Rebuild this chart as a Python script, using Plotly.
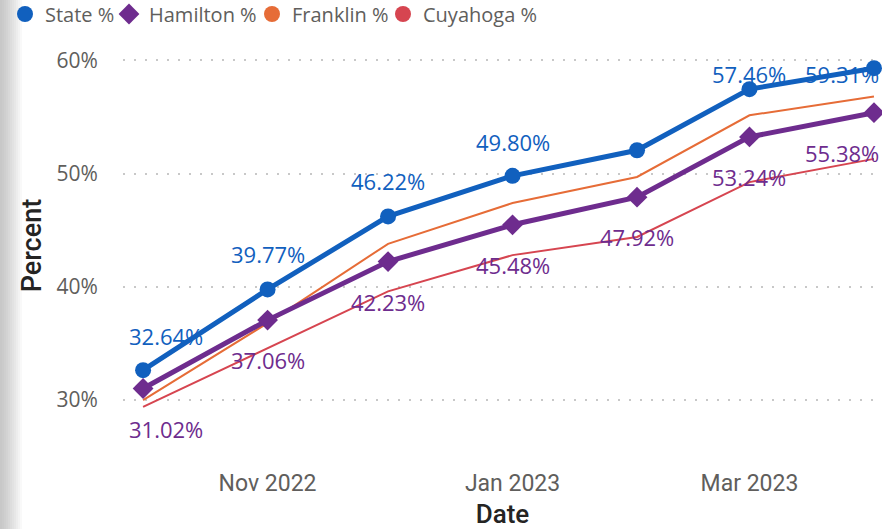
import plotly.graph_objects as go

# ---- data ----
dates = ["2022-10-01", "2022-11-01", "2022-12-01", "2023-01-01",
         "2023-02-01", "2023-03-01", "2023-04-01"]
state_pct = [32.64, 39.77, 46.22, 49.80, 52.06, 57.46, 59.31]
hamilton_pct = [31.02, 37.06, 42.23, 45.48, 47.92, 53.24, 55.38]
franklin_pct = [30.0, 36.8, 43.8, 47.4, 49.7, 55.15, 56.8]
cuyahoga_pct = [29.4, 34.6, 39.6, 42.8, 44.4, 49.25, 51.3]
state_label_shown = [True, True, True, True, False, True, True]
y_ticks = [30, 40, 50, 60]
y_tick_text = ["30%", "40%", "50%", "60%"]
series_names = ["State %", "Hamilton %", "Franklin %", "Cuyahoga %"]

# ---- style ----
C_STATE = "#1160BE"
C_HAM = "#6E2C8E"
C_FRANK = "#E66C37"
C_CUY = "#D64550"
FONT = "Open Sans"
COND = "Roboto"
W, H = 882, 529
ML, MR, MT, MB = 123, 0, 40, 78
PW = W - ML - MR
PH = H - MT - MB

fig = go.Figure()

fig.add_trace(go.Scatter(x=dates, y=cuyahoga_pct, mode="lines", name=series_names[3],
                         line=dict(color=C_CUY, width=2), showlegend=False))
fig.add_trace(go.Scatter(x=dates, y=franklin_pct, mode="lines", name=series_names[2],
                         line=dict(color=C_FRANK, width=2), showlegend=False))
fig.add_trace(go.Scatter(x=dates, y=hamilton_pct, mode="lines+markers", name=series_names[1],
                         line=dict(color=C_HAM, width=5),
                         marker=dict(symbol="diamond", size=16, color=C_HAM), showlegend=False))
fig.add_trace(go.Scatter(x=dates, y=state_pct, mode="lines+markers", name=series_names[0],
                         line=dict(color=C_STATE, width=5),
                         marker=dict(symbol="circle", size=16, color=C_STATE), showlegend=False))

# legend-only entries, one legend each so they can be placed like the reference
leg_cols = [C_STATE, C_HAM, C_FRANK, C_CUY]
leg_syms = ["circle", "diamond", "circle", "circle"]
leg_px = [5, 109, 252, 383]   # left pixel of each legend box
leg_ids = ["legend", "legend2", "legend3", "legend4"]
for name, col, sym, lid in zip(series_names, leg_cols, leg_syms, leg_ids):
    fig.add_trace(go.Scatter(x=[None], y=[None], mode="markers", name=name, legend=lid,
                             marker=dict(symbol=sym, size=18, color=col)))
leg_layout = {}
for lid, px in zip(leg_ids, leg_px):
    leg_layout[lid] = dict(orientation="h", xref="paper", x=(px - ML) / PW, xanchor="left",
                           yref="paper", y=1 + (MT - 14) / PH, yanchor="middle",
                           font=dict(family=FONT, size=20, color="#605E5C"),
                           itemwidth=30, bgcolor="rgba(0,0,0,0)")
fig.update_layout(**leg_layout)

# data labels
state_dx = [23, 0, 0, 0, 0, 0, -32]
state_dy = [34, 35, 35, 34, 34, 15, -6]
for i, (d, v) in enumerate(zip(dates, state_pct)):
    if not state_label_shown[i]:
        continue
    fig.add_annotation(x=d, y=v, text=f"{v:.2f}%", showarrow=False,
                       xshift=state_dx[i], yshift=state_dy[i],
                       font=dict(family=FONT, size=22, color=C_STATE))
ham_dx = [23, 0, 0, 0, 0, 0, -32]
for i, (d, v) in enumerate(zip(dates, hamilton_pct)):
    fig.add_annotation(x=d, y=v, text=f"{v:.2f}%", showarrow=False,
                       xshift=ham_dx[i], yshift=-40,
                       font=dict(family=FONT, size=22, color=C_HAM))

# left gray edge strip (decoration)
n = 11
for k in range(n):
    x0 = (-ML + k * 2) / PW
    x1 = (-ML + (k + 1) * 2) / PW
    g = int(200 + (255 - 200) * (k / n) ** 1.2)
    fig.add_shape(type="rect", xref="paper", yref="paper", x0=x0, x1=x1,
                  y0=-MB / PH, y1=1 + MT / PH,
                  line=dict(width=0), fillcolor=f"rgb({g},{g},{g})", layer="below")

fig.update_layout(
    width=W, height=H,
    margin=dict(l=ML, r=MR, t=MT, b=MB, autoexpand=False),
    paper_bgcolor="white", plot_bgcolor="white",
    font=dict(family=FONT, color="#605E5C"),
    showlegend=True,
)
fig.update_xaxes(
    type="date", range=["2022-09-26", "2023-04-03"],
    tickformat="%b %Y", dtick="M2", tick0="2022-11-01",
    showgrid=False, zeroline=False, showline=False,
    tickfont=dict(family=COND, size=23, color="#605E5C"),
    ticks="outside", ticklen=11, tickcolor="rgba(0,0,0,0)",
    title=dict(text="Date", font=dict(family=COND, size=26, color="#252423", weight=500),
               standoff=10),
)
fig.update_yaxes(
    range=[25.5, 61.8], tickvals=y_ticks, ticktext=y_tick_text,
    showgrid=True, gridcolor="#C8C8C8", griddash="2px,9px", gridwidth=2,
    zeroline=False, showline=False,
    tickfont=dict(family=FONT, size=21, color="#605E5C"),
    ticks="outside", ticklen=20, tickcolor="rgba(0,0,0,0)",
    title=dict(text="Percent", font=dict(family=COND, size=27, color="#252423", weight=500),
               standoff=6),
)

fig.write_html("out.html", config={"displayModeBar": False},
               post_script="document.body.style.margin='0';document.body.style.overflow='hidden';")
